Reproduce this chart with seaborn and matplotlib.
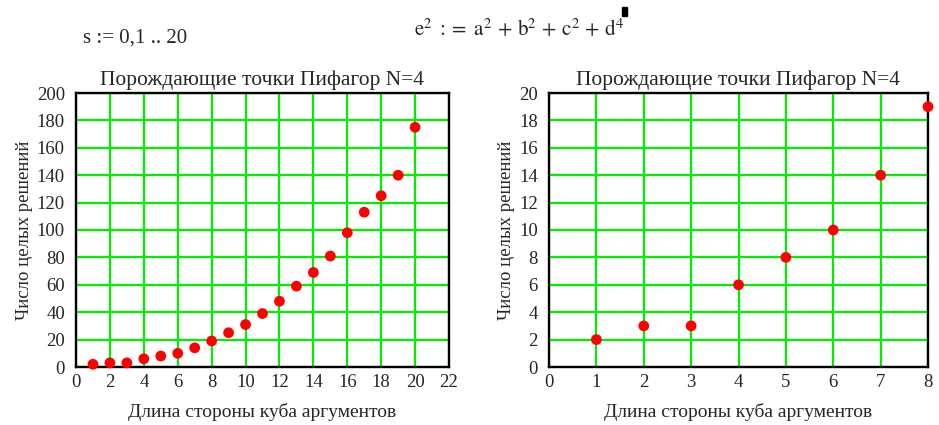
import matplotlib
matplotlib.use('Agg')
import matplotlib.pyplot as plt
import seaborn as sns
import pandas as pd

# Длина стороны куба и число целых решений
storona = [1, 2, 3, 4, 5, 6, 7, 8, 9, 10, 11, 12, 13, 14, 15, 16, 17, 18, 19, 20]
resheniya = [2, 3, 3, 6, 8, 10, 14, 19, 25, 31, 39, 48, 59, 69, 81, 98, 113, 125, 140, 175]

titulo = 'Порождающие точки Пифагор N=4'
rotulo_x = 'Длина стороны куба аргументов'
rotulo_y = 'Число целых решений'

df = pd.DataFrame({'storona': storona, 'resheniya': resheniya})

sns.set_style('whitegrid', {
    'grid.color': '#00ee00',
    'axes.edgecolor': 'black',
    'axes.linewidth': 1.4,
})
plt.rcParams['font.family'] = ['Liberation Serif', 'DejaVu Serif']
plt.rcParams['mathtext.fontset'] = 'stix'

fig = plt.figure(figsize=(9.39, 4.25), dpi=100)
ax1 = fig.add_axes([76 / 939, 58 / 425, 373 / 939, 274 / 425])
ax2 = fig.add_axes([549 / 939, 58 / 425, 379 / 939, 274 / 425])

paineis = [
    (ax1, df, 22, 200, range(0, 23, 2), range(0, 201, 20)),
    (ax2, df[df['storona'] <= 8], 8, 20, range(0, 9), range(0, 21, 2)),
]

for ax, dados, xmax, ymax, xt, yt in paineis:
    sns.scatterplot(data=dados, x='storona', y='resheniya', ax=ax,
                    color='#ff0000', s=60, edgecolor='none', clip_on=False, zorder=5)
    ax.set_xlim(0, xmax)
    ax.set_ylim(0, ymax)
    ax.set_xticks(list(xt))
    ax.set_yticks(list(yt))
    ax.grid(True, color='#00ee00', linewidth=1.6)
    for sp in ax.spines.values():
        sp.set_zorder(4)
        sp.set_linewidth(1.7)
        sp.set_color('black')
    ax.tick_params(axis='x', length=0, labelsize=13.5, pad=5)
    ax.tick_params(axis='y', length=0, labelsize=13.5, pad=8)
    ax.set_title(titulo, fontsize=15.5, pad=6)
    ax.set_xlabel(rotulo_x, fontsize=14, labelpad=9)
    ax.set_ylabel(rotulo_y, fontsize=13.5, labelpad=3)

fig.text(83 / 939, 1 - 38 / 425, 's := 0,1 .. 20', fontsize=15, va='center', ha='left')
fig.text(414 / 939, 1 - 30 / 425,
         r'$\mathrm{e}^{2}\ :=\ \mathrm{a}^{2}\,+\,\mathrm{b}^{2}\,+\,\mathrm{c}^{2}\,+\,\mathrm{d}^{4}$',
         fontsize=15, va='center', ha='left')
fig.patches.append(plt.Rectangle((622 / 939, 1 - 16 / 425), 5 / 939, 9 / 425,
                                 transform=fig.transFigure, color='black'))

plt.savefig('out.png', dpi=100)
